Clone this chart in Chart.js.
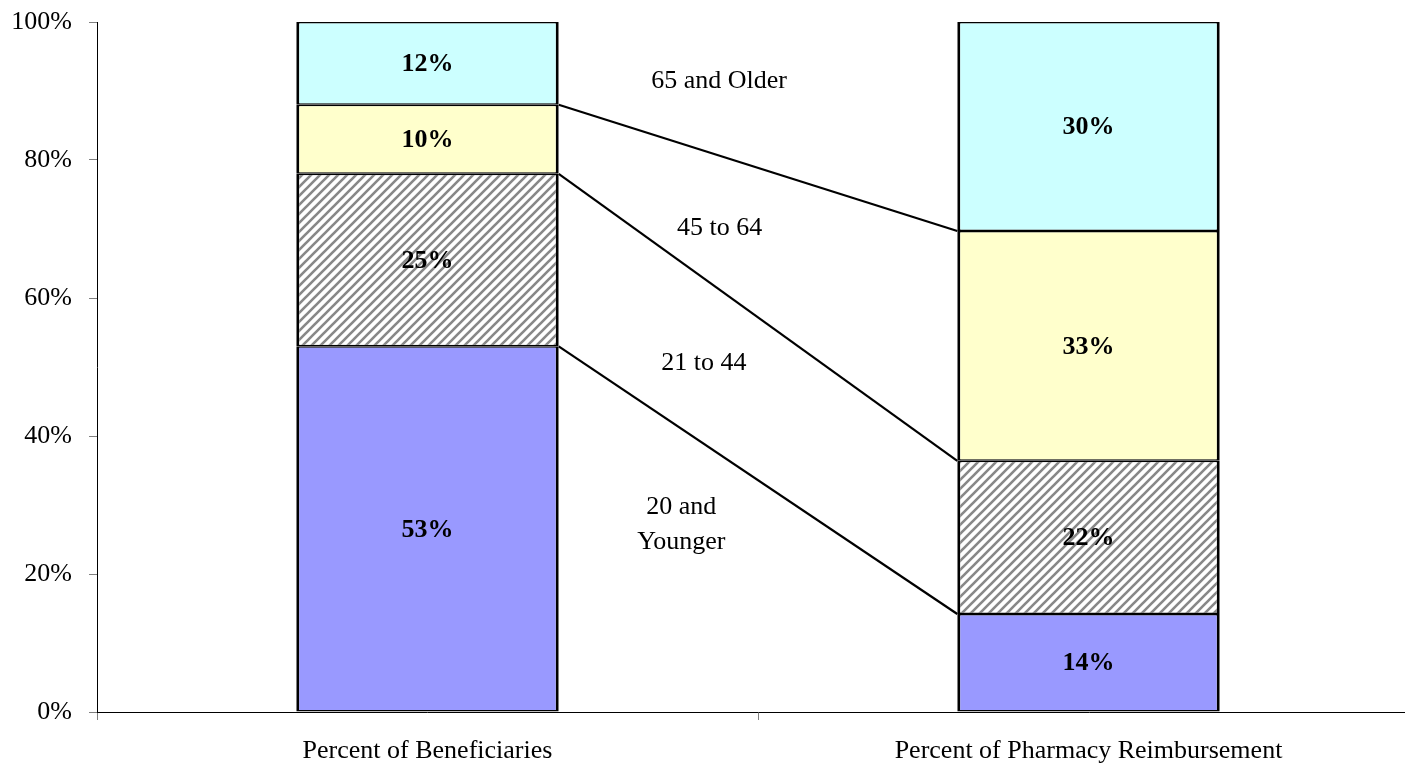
<!DOCTYPE html>
<html>
<head>
<meta charset="utf-8">
<script src="https://cdn.jsdelivr.net/npm/chart.js@4.4.1/dist/chart.umd.min.js"></script>
<style>
  html, body { margin: 0; padding: 0; background: #fff; overflow: hidden; }
  #wrap { width: 1419px; height: 764px; position: relative; }
</style>
</head>
<body>
<div id="wrap"><canvas id="c"></canvas></div>
<script>
// ---- data ----
const categories = ['Percent of Beneficiaries', 'Percent of Pharmacy Reimbursement'];
const ageGroups = ['20 and Younger', '21 to 44', '45 to 64', '65 and Older'];
const age20AndYounger = [53, 14.2];
const age21To44 = [25, 22.2];
const age45To64 = [10, 33.3];
const age65AndOlder = [12, 30.3];
const yTicks = [0, 20, 40, 60, 80, 100];

// ---- styles ----
const FONT = "'Liberation Serif', 'Times New Roman', serif";

function hatchPattern() {
  const p = 9;
  const c = document.createElement('canvas');
  c.width = p; c.height = p;
  const g = c.getContext('2d');
  g.fillStyle = '#ffffff';
  g.fillRect(0, 0, p, p);
  g.strokeStyle = '#888888';
  g.lineWidth = 2.6;
  g.beginPath();
  g.moveTo(-1, p + 1); g.lineTo(p + 1, -1);
  g.moveTo(-1, 1); g.lineTo(1, -1);
  g.moveTo(p - 1, p + 1); g.lineTo(p + 1, p - 1);
  g.stroke();
  return g.createPattern(c, 'repeat');
}

const series = [age20AndYounger, age21To44, age45To64, age65AndOlder];
const fills = ['#9999ff', hatchPattern(), '#ffffcc', '#ccffff'];

const datasets = series.map((vals, i) => ({
  label: ageGroups[i],
  data: vals,
  backgroundColor: fills[i],
  borderColor: '#000000',
  borderWidth: { top: 1.5, bottom: 1.5, left: 3, right: 3 },
  borderSkipped: false,
  categoryPercentage: 1.0,
  barPercentage: 0.397
}));

// text labels between the bars, in data units (x: category index, y: percent)
const annotationPlacement = [
  { lines: ['65 and Older'], x: 0.441, y: 91.4 },
  { lines: ['45 to 64'], x: 0.442, y: 70.1 },
  { lines: ['21 to 44'], x: 0.418, y: 50.6 },
  { lines: ['20 and', 'Younger'], x: 0.384, y: 29.7, lineStep: 5.1 }
];

const overlayPlugin = {
  id: 'overlay',
  afterDatasetsDraw(chart) {
    const ctx = chart.ctx;
    const xs = chart.scales.x, ys = chart.scales.y;
    const metas = chart.data.datasets.map((d, i) => chart.getDatasetMeta(i));

    // connecting lines between the stacked segment tops
    ctx.save();
    ctx.strokeStyle = '#000';
    ctx.lineWidth = 2.2;
    for (let i = 0; i < metas.length - 1; i++) {
      const a = metas[i].data[0], b = metas[i].data[1];
      ctx.beginPath();
      ctx.moveTo(a.x + a.width / 2, a.y);
      ctx.lineTo(b.x - b.width / 2, b.y);
      ctx.stroke();
    }
    ctx.restore();

    // value labels
    ctx.save();
    ctx.font = 'bold 26px ' + FONT;
    ctx.fillStyle = '#000';
    ctx.textAlign = 'center';
    ctx.textBaseline = 'middle';
    metas.forEach((m, di) => {
      m.data.forEach((el, j) => {
        const v = chart.data.datasets[di].data[j];
        ctx.fillText(Math.round(v) + '%', el.x, (el.y + el.base) / 2 + 1);
      });
    });
    ctx.restore();

    // group labels
    ctx.save();
    ctx.font = '26px ' + FONT;
    ctx.fillStyle = '#000';
    ctx.textAlign = 'center';
    ctx.textBaseline = 'middle';
    const x0 = xs.getPixelForValue(0), x1 = xs.getPixelForValue(1);
    annotationPlacement.forEach(a => {
      const px = x0 + (x1 - x0) * a.x;
      a.lines.forEach((t, k) => {
        const py = ys.getPixelForValue(a.y - k * (a.lineStep || 0));
        ctx.fillText(t, px, py);
      });
    });
    ctx.restore();
  }
};

new Chart(document.getElementById('c'), {
  type: 'bar',
  data: { labels: categories, datasets },
  plugins: [overlayPlugin],
  options: {
    responsive: true,
    maintainAspectRatio: false,
    animation: false,
    layout: { padding: { top: 22, right: 0, bottom: 0, left: 0 } },
    plugins: { legend: { display: false }, tooltip: { enabled: false } },
    scales: {
      x: {
        stacked: true,
        grid: { display: true, offset: true, drawOnChartArea: false, tickLength: 8, color: '#808080' },
        border: { display: true, color: '#000', width: 1 },
        ticks: { font: { family: FONT, size: 26 }, color: '#000', padding: 16, maxRotation: 0 },
        afterFit: (s) => { s.height = 52; s.paddingLeft = 0; s.paddingRight = 0; }
      },
      y: {
        stacked: true,
        min: 0, max: 100,
        afterBuildTicks: (s) => { s.ticks = yTicks.map(v => ({ value: v })); },
        grid: { display: true, drawOnChartArea: false, tickLength: 8, color: '#808080' },
        border: { display: true, color: '#000', width: 1 },
        ticks: { font: { family: FONT, size: 26 }, color: '#000', padding: 17, callback: (v) => v + '%' },
        afterFit: (s) => { s.width = 97; s.paddingTop = 0; s.paddingBottom = 0; }
      }
    }
  }
});
</script>
</body>
</html>
